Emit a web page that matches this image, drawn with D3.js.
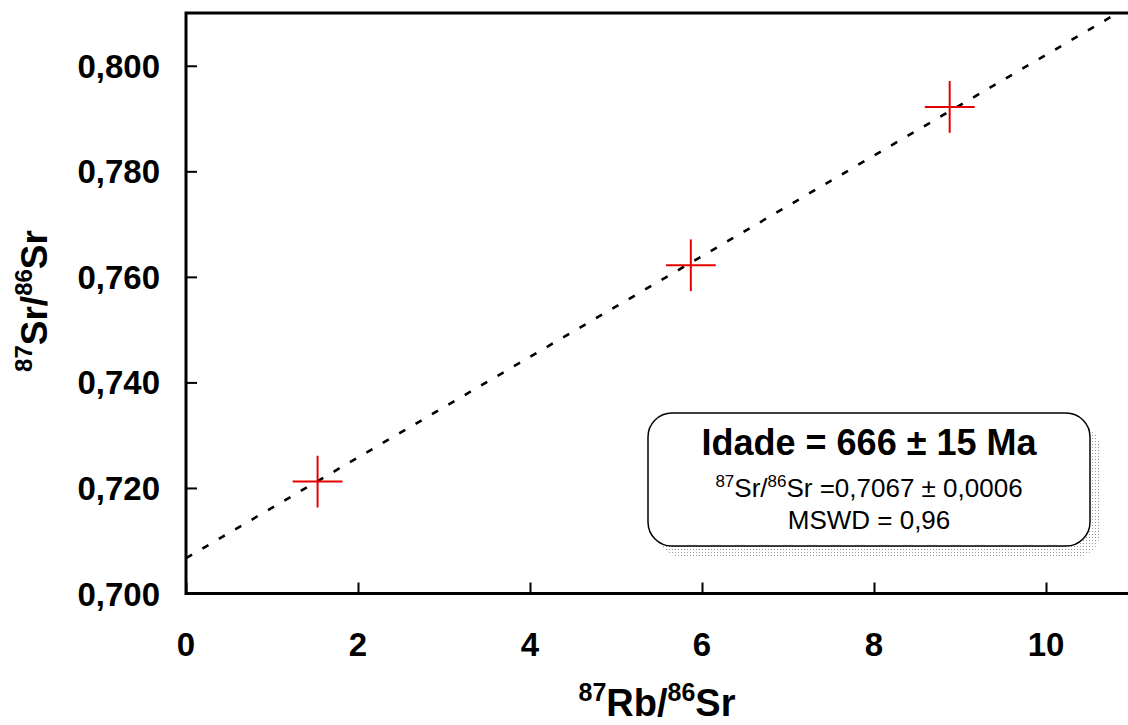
<!DOCTYPE html>
<html>
<head>
<meta charset="utf-8">
<script src="https://cdn.jsdelivr.net/npm/d3@7"></script>
<style>
  body { margin: 0; background: #fff; }
  text { font-family: "Liberation Sans", Arial, sans-serif; }
</style>
</head>
<body>
<div id="chart"></div>
<script>
// Isochron data
const rbSr = [1.53, 5.87, 8.88];          // 87Rb/86Sr
const srSr = [0.7212, 0.7622, 0.7922];    // 87Sr/86Sr
const xErr = [0.29, 0.29, 0.29];
const yErr = [0.0049, 0.0049, 0.0049];

// regression line end points
const lineX = [0, 11];
const lineY = [0.7067, 0.8116];

const xTicks = [0, 2, 4, 6, 8, 10];
const yTicks = [0.70, 0.72, 0.74, 0.76, 0.78, 0.80];

const width = 1128, height = 725;
const plotL = 186, plotT = 13, plotR = 1132, plotB = 593.5;

const svg = d3.select("#chart").append("svg")
    .attr("width", width)
    .attr("height", height);

const x = d3.scaleLinear().domain([0, 11]).range([plotL, plotR]);
const y = d3.scaleLinear().domain([0.70, 0.81]).range([plotB, plotT]);

const defs = svg.append("defs");
defs.append("clipPath").attr("id", "plot")
  .append("rect")
    .attr("x", plotL).attr("y", plotT)
    .attr("width", plotR - plotL).attr("height", plotB - plotT);

// dotted shadow pattern
defs.append("pattern")
    .attr("id", "dots")
    .attr("width", 3).attr("height", 3)
    .attr("patternUnits", "userSpaceOnUse")
  .append("rect")
    .attr("width", 1).attr("height", 1)
    .attr("fill", "#999");

// frame
svg.append("rect")
    .attr("x", plotL).attr("y", plotT)
    .attr("width", plotR - plotL).attr("height", plotB - plotT)
    .attr("fill", "none")
    .attr("stroke", "#000")
    .attr("stroke-width", 3);

// ticks (inside)
svg.append("g")
    .attr("transform", `translate(0,${plotB})`)
    .call(d3.axisTop(x).tickValues(xTicks).tickSize(11).tickFormat(""))
    .call(g => g.select(".domain").remove())
    .call(g => g.selectAll("line").attr("stroke-width", 2));

svg.append("g")
    .attr("transform", `translate(${plotL},0)`)
    .call(d3.axisRight(y).tickValues(yTicks.slice(1)).tickSize(11).tickFormat(""))
    .call(g => g.select(".domain").remove())
    .call(g => g.selectAll("line").attr("stroke-width", 2));

// tick labels
svg.selectAll(".xlab").data(xTicks).join("text")
    .attr("x", d => x(d))
    .attr("y", 656)
    .attr("text-anchor", "middle")
    .attr("font-size", 33)
    .attr("font-weight", "bold")
    .text(d => d);

svg.selectAll(".ylab").data(yTicks).join("text")
    .attr("x", 160)
    .attr("y", d => y(d) + 12)
    .attr("text-anchor", "end")
    .attr("font-size", 33)
    .attr("font-weight", "bold")
    .text(d => d3.format(".3f")(d).replace(".", ","));

// axis titles with superscripts
function isoLabel(sel, a, b, c, d, size, sup) {
    sel.append("tspan").attr("font-size", sup).attr("dy", -size * 0.4).text(a);
    sel.append("tspan").attr("font-size", size).attr("dy", size * 0.4).text(b);
    sel.append("tspan").attr("font-size", sup).attr("dy", -size * 0.4).text(c);
    sel.append("tspan").attr("font-size", size).attr("dy", size * 0.4).text(d);
}

svg.append("text")
    .attr("x", 657).attr("y", 716)
    .attr("text-anchor", "middle")
    .attr("font-weight", "bold")
    .call(isoLabel, "87", "Rb/", "86", "Sr", 38, 25);

svg.append("text")
    .attr("transform", "translate(47,301) rotate(-90)")
    .attr("text-anchor", "middle")
    .attr("font-weight", "bold")
    .call(isoLabel, "87", "Sr/", "86", "Sr", 37, 24);

// regression line (dashed)
svg.append("path")
    .datum(d3.zip(lineX, lineY))
    .attr("clip-path", "url(#plot)")
    .attr("d", d3.line().x(d => x(d[0])).y(d => y(d[1])))
    .attr("fill", "none")
    .attr("stroke", "#000")
    .attr("stroke-width", 2.6)
    .attr("stroke-dasharray", "7,12");

// error crosses
const pts = rbSr.map((v, i) => ({ x: v, y: srSr[i], ex: xErr[i], ey: yErr[i] }));
const cross = svg.append("g").attr("stroke", "#e60000").attr("stroke-width", 2);
cross.selectAll(".h").data(pts).join("line")
    .attr("x1", d => x(d.x - d.ex)).attr("x2", d => x(d.x + d.ex))
    .attr("y1", d => y(d.y)).attr("y2", d => y(d.y));
cross.selectAll(".v").data(pts).join("line")
    .attr("x1", d => x(d.x)).attr("x2", d => x(d.x))
    .attr("y1", d => y(d.y - d.ey)).attr("y2", d => y(d.y + d.ey));

// results box
const bx = 648, by = 413, bw = 442, bh = 133;
svg.append("rect")
    .attr("x", bx + 10).attr("y", by + 11)
    .attr("width", bw).attr("height", bh)
    .attr("rx", 24)
    .attr("fill", "url(#dots)");
svg.append("rect")
    .attr("x", bx).attr("y", by)
    .attr("width", bw).attr("height", bh)
    .attr("rx", 24)
    .attr("fill", "#fff")
    .attr("stroke", "#000")
    .attr("stroke-width", 1.5);

const cx = bx + bw / 2;
svg.append("text")
    .attr("x", cx).attr("y", 455)
    .attr("text-anchor", "middle")
    .attr("font-size", 36)
    .attr("font-weight", "bold")
    .text("Idade = 666 ± 15 Ma");

const l2 = svg.append("text")
    .attr("x", cx).attr("y", 497)
    .attr("text-anchor", "middle")
    .attr("font-size", 26);
l2.append("tspan").attr("font-size", 17).attr("dy", -10).text("87");
l2.append("tspan").attr("dy", 10).text("Sr/");
l2.append("tspan").attr("font-size", 17).attr("dy", -10).text("86");
l2.append("tspan").attr("dy", 10).text("Sr =0,7067 ± 0,0006");

svg.append("text")
    .attr("x", cx).attr("y", 529)
    .attr("text-anchor", "middle")
    .attr("font-size", 26)
    .text("MSWD = 0,96");
</script>
</body>
</html>
